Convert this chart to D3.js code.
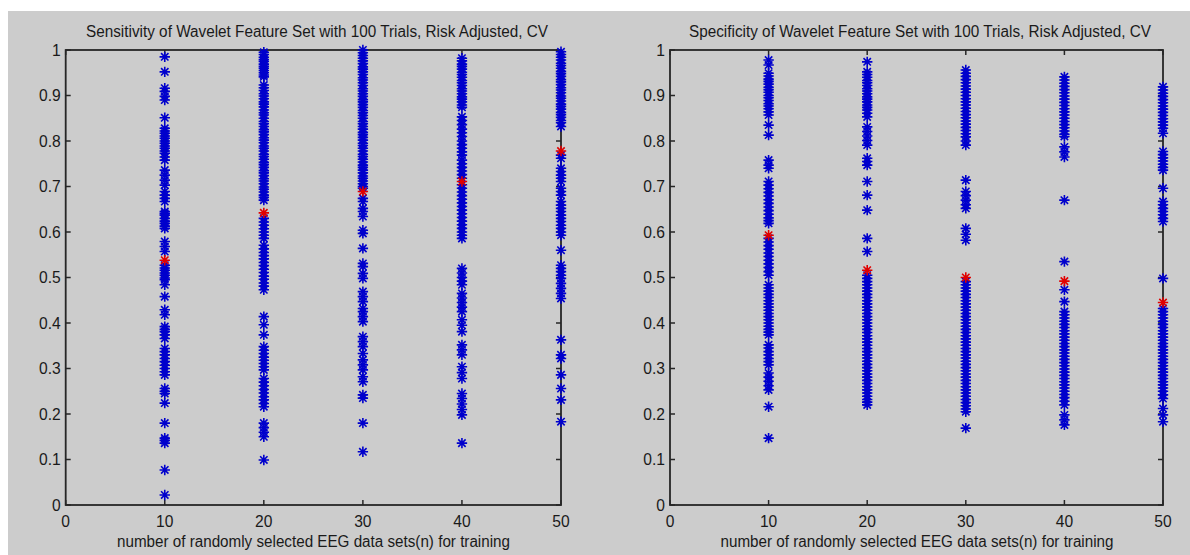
<!DOCTYPE html>
<html>
<head>
<meta charset="utf-8">
<script src="https://cdn.jsdelivr.net/npm/d3@7"></script>
<style>
  html, body { margin: 0; padding: 0; background: #ffffff; }
  svg { display: block; }
  text { font-family: "Liberation Sans", Arial, sans-serif; fill: #1a1a1a; }
</style>
</head>
<body>
<svg id="chart" width="1190" height="555"></svg>
<script>
// ---------------- data ----------------
const trainSizes = [10, 20, 30, 40, 50];
const xTicks = [0, 10, 20, 30, 40, 50];
const yTicks = [0, 0.1, 0.2, 0.3, 0.4, 0.5, 0.6, 0.7, 0.8, 0.9, 1];
const yTickLabels = ["0", "0.1", "0.2", "0.3", "0.4", "0.5", "0.6", "0.7", "0.8", "0.9", "1"];

const sensTitle = "Sensitivity of Wavelet Feature Set with 100 Trials, Risk Adjusted, CV";
const specTitle = "Specificity of Wavelet Feature Set with 100 Trials, Risk Adjusted, CV";
const xLabel = "number of randomly selected EEG data sets(n) for training";

// Sensitivity trial values per training size
const sens10 = [0.985, 0.952, 0.916, 0.909, 0.898, 0.890, 0.851, 0.828, 0.822, 0.817, 0.811, 0.806, 0.800, 0.795, 0.789, 0.784, 0.778, 0.773, 0.765, 0.758, 0.736, 0.725, 0.714, 0.703, 0.689, 0.681, 0.674, 0.667, 0.645, 0.641, 0.637, 0.630, 0.624, 0.619, 0.613, 0.608, 0.579, 0.568, 0.557, 0.527, 0.521, 0.516, 0.510, 0.505, 0.499, 0.495, 0.484, 0.458, 0.429, 0.418, 0.392, 0.386, 0.381, 0.374, 0.366, 0.344, 0.337, 0.330, 0.322, 0.315, 0.307, 0.300, 0.293, 0.286, 0.256, 0.250, 0.245, 0.224, 0.180, 0.147, 0.142, 0.136, 0.077, 0.022];
const sens20 = [0.995, 0.990, 0.984, 0.979, 0.975, 0.969, 0.964, 0.960, 0.955, 0.950, 0.945, 0.941, 0.923, 0.917, 0.911, 0.904, 0.899, 0.893, 0.886, 0.881, 0.875, 0.868, 0.862, 0.857, 0.850, 0.843, 0.838, 0.832, 0.825, 0.820, 0.814, 0.807, 0.802, 0.796, 0.789, 0.784, 0.778, 0.771, 0.766, 0.760, 0.753, 0.748, 0.742, 0.735, 0.730, 0.724, 0.717, 0.712, 0.706, 0.699, 0.694, 0.688, 0.681, 0.676, 0.670, 0.630, 0.622, 0.615, 0.607, 0.600, 0.593, 0.586, 0.571, 0.563, 0.555, 0.548, 0.541, 0.533, 0.526, 0.518, 0.511, 0.503, 0.496, 0.488, 0.481, 0.473, 0.414, 0.396, 0.374, 0.348, 0.340, 0.333, 0.325, 0.318, 0.311, 0.304, 0.297, 0.278, 0.270, 0.262, 0.254, 0.246, 0.238, 0.231, 0.223, 0.216, 0.180, 0.170, 0.160, 0.150, 0.099];
const sens30 = [1.000, 0.994, 0.988, 0.982, 0.976, 0.970, 0.963, 0.958, 0.952, 0.946, 0.939, 0.934, 0.928, 0.922, 0.915, 0.910, 0.904, 0.898, 0.891, 0.886, 0.880, 0.874, 0.867, 0.862, 0.856, 0.850, 0.843, 0.838, 0.832, 0.826, 0.819, 0.814, 0.808, 0.802, 0.795, 0.790, 0.784, 0.778, 0.771, 0.766, 0.760, 0.754, 0.747, 0.742, 0.736, 0.730, 0.723, 0.718, 0.712, 0.706, 0.700, 0.696, 0.674, 0.667, 0.652, 0.645, 0.634, 0.604, 0.597, 0.564, 0.531, 0.524, 0.509, 0.498, 0.469, 0.458, 0.447, 0.432, 0.425, 0.414, 0.403, 0.370, 0.359, 0.348, 0.333, 0.319, 0.308, 0.297, 0.282, 0.271, 0.242, 0.235, 0.180, 0.117];
const sens40 = [0.982, 0.976, 0.969, 0.964, 0.958, 0.951, 0.946, 0.940, 0.933, 0.928, 0.922, 0.915, 0.910, 0.904, 0.897, 0.892, 0.886, 0.879, 0.874, 0.853, 0.845, 0.836, 0.826, 0.818, 0.810, 0.800, 0.792, 0.784, 0.776, 0.769, 0.758, 0.750, 0.742, 0.734, 0.726, 0.718, 0.704, 0.696, 0.688, 0.680, 0.672, 0.664, 0.656, 0.648, 0.640, 0.632, 0.624, 0.616, 0.608, 0.600, 0.593, 0.586, 0.520, 0.510, 0.500, 0.492, 0.484, 0.465, 0.455, 0.445, 0.435, 0.425, 0.407, 0.395, 0.381, 0.352, 0.341, 0.330, 0.304, 0.291, 0.278, 0.245, 0.234, 0.222, 0.210, 0.198, 0.136];
const sens50 = [0.996, 0.990, 0.984, 0.978, 0.971, 0.966, 0.960, 0.953, 0.948, 0.942, 0.935, 0.930, 0.924, 0.917, 0.912, 0.906, 0.899, 0.894, 0.888, 0.881, 0.876, 0.870, 0.863, 0.858, 0.852, 0.845, 0.840, 0.832, 0.769, 0.762, 0.740, 0.733, 0.725, 0.718, 0.711, 0.696, 0.689, 0.681, 0.667, 0.659, 0.652, 0.645, 0.637, 0.630, 0.623, 0.615, 0.608, 0.600, 0.593, 0.560, 0.527, 0.520, 0.513, 0.505, 0.498, 0.487, 0.476, 0.465, 0.454, 0.363, 0.330, 0.322, 0.286, 0.256, 0.231, 0.183];
const sensMean = [0.538, 0.642, 0.689, 0.711, 0.778];

// Specificity trial values per training size
const spec10 = [0.978, 0.967, 0.949, 0.943, 0.936, 0.931, 0.925, 0.918, 0.913, 0.907, 0.900, 0.895, 0.889, 0.882, 0.877, 0.871, 0.864, 0.857, 0.835, 0.813, 0.758, 0.747, 0.740, 0.711, 0.703, 0.695, 0.687, 0.679, 0.671, 0.663, 0.655, 0.647, 0.639, 0.631, 0.625, 0.619, 0.586, 0.578, 0.570, 0.562, 0.554, 0.546, 0.538, 0.530, 0.522, 0.513, 0.505, 0.484, 0.477, 0.470, 0.463, 0.456, 0.449, 0.442, 0.435, 0.428, 0.421, 0.414, 0.407, 0.400, 0.393, 0.386, 0.380, 0.374, 0.352, 0.345, 0.337, 0.330, 0.322, 0.315, 0.308, 0.290, 0.281, 0.272, 0.262, 0.253, 0.216, 0.147];
const spec20 = [0.974, 0.952, 0.946, 0.940, 0.933, 0.928, 0.922, 0.915, 0.910, 0.904, 0.897, 0.892, 0.886, 0.879, 0.874, 0.868, 0.861, 0.853, 0.831, 0.821, 0.811, 0.801, 0.791, 0.762, 0.755, 0.747, 0.711, 0.681, 0.648, 0.586, 0.557, 0.505, 0.498, 0.491, 0.484, 0.477, 0.470, 0.463, 0.456, 0.449, 0.442, 0.435, 0.428, 0.421, 0.414, 0.407, 0.400, 0.393, 0.386, 0.379, 0.372, 0.365, 0.358, 0.351, 0.344, 0.337, 0.330, 0.323, 0.316, 0.309, 0.302, 0.295, 0.288, 0.281, 0.274, 0.267, 0.260, 0.253, 0.246, 0.239, 0.232, 0.226, 0.220];
const spec30 = [0.956, 0.949, 0.942, 0.935, 0.928, 0.921, 0.914, 0.907, 0.900, 0.893, 0.886, 0.879, 0.872, 0.865, 0.858, 0.851, 0.844, 0.837, 0.830, 0.823, 0.816, 0.809, 0.800, 0.791, 0.714, 0.689, 0.680, 0.670, 0.660, 0.652, 0.608, 0.595, 0.582, 0.491, 0.484, 0.477, 0.470, 0.463, 0.456, 0.449, 0.442, 0.435, 0.428, 0.421, 0.414, 0.407, 0.400, 0.393, 0.386, 0.379, 0.372, 0.365, 0.358, 0.351, 0.344, 0.337, 0.330, 0.323, 0.316, 0.309, 0.302, 0.295, 0.288, 0.281, 0.274, 0.267, 0.260, 0.253, 0.246, 0.239, 0.232, 0.225, 0.218, 0.211, 0.205, 0.169];
const spec40 = [0.941, 0.934, 0.927, 0.920, 0.913, 0.906, 0.899, 0.892, 0.885, 0.878, 0.871, 0.864, 0.857, 0.850, 0.843, 0.836, 0.829, 0.822, 0.815, 0.810, 0.787, 0.776, 0.765, 0.670, 0.535, 0.473, 0.447, 0.425, 0.418, 0.411, 0.404, 0.397, 0.390, 0.383, 0.376, 0.369, 0.362, 0.355, 0.348, 0.341, 0.334, 0.327, 0.320, 0.313, 0.306, 0.299, 0.292, 0.285, 0.278, 0.271, 0.264, 0.257, 0.250, 0.243, 0.236, 0.228, 0.220, 0.198, 0.187, 0.176];
const spec50 = [0.919, 0.912, 0.905, 0.898, 0.891, 0.884, 0.877, 0.870, 0.863, 0.856, 0.849, 0.842, 0.835, 0.828, 0.817, 0.777, 0.770, 0.763, 0.756, 0.749, 0.742, 0.736, 0.696, 0.667, 0.660, 0.652, 0.645, 0.638, 0.630, 0.623, 0.498, 0.432, 0.425, 0.418, 0.411, 0.404, 0.397, 0.390, 0.383, 0.376, 0.369, 0.362, 0.355, 0.348, 0.341, 0.334, 0.327, 0.320, 0.313, 0.306, 0.299, 0.292, 0.285, 0.278, 0.271, 0.264, 0.257, 0.250, 0.242, 0.234, 0.212, 0.198, 0.183];
const specMean = [0.593, 0.516, 0.500, 0.492, 0.445];

// ---------------- drawing ----------------
const svg = d3.select("#chart");

svg.append("rect").attr("x", 8).attr("y", 11).attr("width", 1182).attr("height", 544).attr("fill", "#cccccc");

const starPath = (() => {
  const a = 5.2, b = 3.7;
  return `M${-a},0L${a},0M0,${-a}L0,${a}M${-b},${-b}L${b},${b}M${-b},${b}L${b},${-b}`;
})();

function drawPanel(cfg) {
  const x = d3.scaleLinear().domain([0, 50]).range([cfg.x0, cfg.x1]);
  const y = d3.scaleLinear().domain([0, 1]).range([505, 50]);
  const g = svg.append("g");
  const axisColor = "#262626";
  const tl = 5;

  // box
  g.append("rect")
    .attr("x", x(0)).attr("y", y(1))
    .attr("width", x(50) - x(0)).attr("height", y(0) - y(1))
    .attr("fill", "none").attr("stroke", axisColor).attr("stroke-width", 1.8);

  // ticks (inward on all four sides)
  yTicks.forEach(t => {
    g.append("line").attr("x1", x(0)).attr("x2", x(0) + tl).attr("y1", y(t)).attr("y2", y(t))
      .attr("stroke", axisColor).attr("stroke-width", 1.5);
    g.append("line").attr("x1", x(50)).attr("x2", x(50) - tl).attr("y1", y(t)).attr("y2", y(t))
      .attr("stroke", axisColor).attr("stroke-width", 1.5);
  });
  xTicks.forEach(t => {
    g.append("line").attr("x1", x(t)).attr("x2", x(t)).attr("y1", y(0)).attr("y2", y(0) - tl)
      .attr("stroke", axisColor).attr("stroke-width", 1.5);
    g.append("line").attr("x1", x(t)).attr("x2", x(t)).attr("y1", y(1)).attr("y2", y(1) + tl)
      .attr("stroke", axisColor).attr("stroke-width", 1.5);
  });

  // tick labels
  g.selectAll(".ylab").data(yTicks).enter().append("text")
    .attr("x", x(0) - 5).attr("y", d => y(d) + 6)
    .attr("text-anchor", "end").attr("font-size", 17)
    .attr("transform", d => `translate(${(x(0) - 5) * 0.08},0) scale(0.92,1)`)
    .text((d, i) => yTickLabels[i]);
  g.selectAll(".xlab").data(xTicks).enter().append("text")
    .attr("x", d => x(d) / 0.92).attr("y", 527)
    .attr("text-anchor", "middle").attr("font-size", 17)
    .attr("transform", "scale(0.92,1)")
    .text(d => d);

  // title & x label
  g.append("text").attr("x", cfg.titleCx).attr("y", 37)
    .attr("text-anchor", "middle").attr("font-size", 16)
    .attr("textLength", 462).attr("lengthAdjust", "spacingAndGlyphs")
    .text(cfg.title);
  g.append("text").attr("x", cfg.labelCx).attr("y", 547)
    .attr("text-anchor", "middle").attr("font-size", 16)
    .attr("textLength", 393).attr("lengthAdjust", "spacingAndGlyphs")
    .text(xLabel);

  // trial points
  cfg.series.forEach((vals, i) => {
    g.selectAll(null).data(vals).enter().append("path")
      .attr("d", starPath)
      .attr("transform", d => `translate(${x(trainSizes[i])},${y(d)})`)
      .attr("stroke", "#0000cc").attr("stroke-width", 1.6).attr("fill", "none");
  });
  // means
  g.selectAll(null).data(cfg.means).enter().append("path")
    .attr("d", starPath)
    .attr("transform", (d, i) => `translate(${x(trainSizes[i])},${y(d)})`)
    .attr("stroke", "#e00000").attr("stroke-width", 1.6).attr("fill", "none");
}

drawPanel({
  x0: 65.7, x1: 561, title: sensTitle, titleCx: 317, labelCx: 313.5,
  series: [sens10, sens20, sens30, sens40, sens50], means: sensMean
});
drawPanel({
  x0: 670, x1: 1163, title: specTitle, titleCx: 920, labelCx: 917,
  series: [spec10, spec20, spec30, spec40, spec50], means: specMean
});
</script>
</body>
</html>
